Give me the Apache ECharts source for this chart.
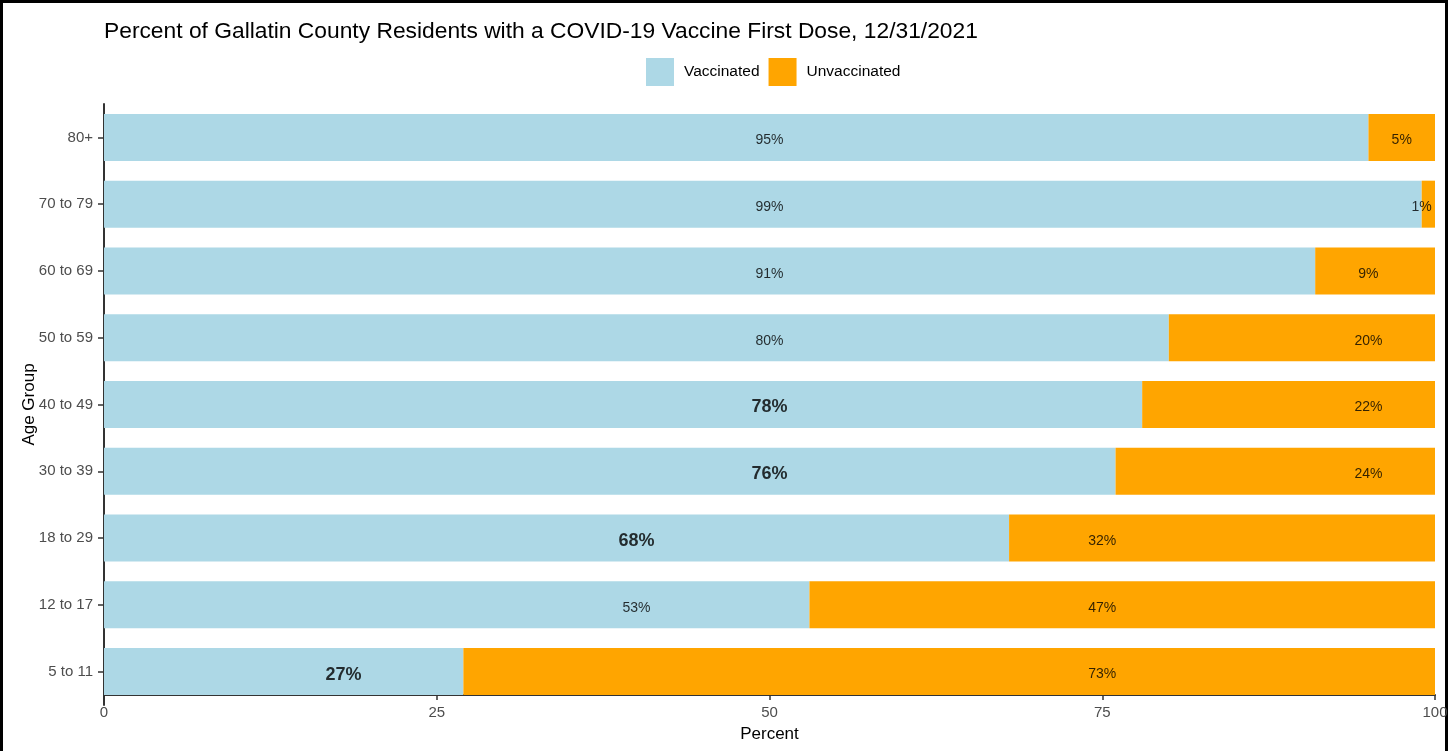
<!DOCTYPE html>
<html>
<head>
<meta charset="utf-8">
<script src="https://cdn.jsdelivr.net/npm/echarts@6/dist/echarts.min.js"></script>
<style>
  html, body { margin: 0; padding: 0; width: 1455px; height: 751px; overflow: hidden; background: #fff; }
  .frame {
    position: absolute; left: 0; top: 0; width: 1442px; height: 770px;
    border: 3px solid #000; box-sizing: content-box;
  }
  #chart { position: absolute; left: 0; top: 0; width: 1455px; height: 751px; }
</style>
</head>
<body>
<div class="frame"></div>
<div id="chart"></div>
<script>
// age groups, bottom to top
const ageGroups = ['5 to 11', '12 to 17', '18 to 29', '30 to 39', '40 to 49', '50 to 59', '60 to 69', '70 to 79', '80+']
const vaccinated = [27, 53, 68, 76, 78, 80, 91, 99, 95]
const unvaccinated = [73, 47, 32, 24, 22, 20, 9, 1, 5]
// where the percent labels sit on the Percent axis
const vaccinatedLabelAt = [18, 40, 40, 50, 50, 50, 50, 50, 50]
const unvaccinatedLabelAt = [75, 75, 75, 95, 95, 95, 95, 99, 97.5]
const boldLabel = [true, false, true, true, true, false, false, false, false]
const percentTicks = [0, 25, 50, 75, 100]

const chart = echarts.init(document.getElementById('chart'))

// label points for both segments
const labelPoints = []
ageGroups.forEach((g, i) => {
  labelPoints.push({
    value: [vaccinatedLabelAt[i], g],
    text: vaccinated[i] + '%',
    label: boldLabel[i] ? { fontSize: 18, fontWeight: 'bold' } : { fontSize: 14, fontWeight: 'normal' }
  })
  labelPoints.push({
    value: [unvaccinatedLabelAt[i], g],
    text: unvaccinated[i] + '%',
    label: { fontSize: 14, fontWeight: 'normal' }
  })
})

const font = 'Liberation Sans, Arial, sans-serif'

chart.setOption({
  animation: false,
  textStyle: { fontFamily: font },
  title: {
    text: 'Percent of Gallatin County Residents with a COVID-19 Vaccine First Dose, 12/31/2021',
    left: 99,
    top: 15,
    textStyle: { fontFamily: font, fontSize: 22.8, fontWeight: 'normal', color: '#000' }
  },
  legend: {
    data: ['Vaccinated', 'Unvaccinated'],
    left: 646,
    top: 58,
    padding: 0,
    itemWidth: 28,
    itemHeight: 28,
    itemGap: 9,
    icon: 'rect',
    textStyle: { fontFamily: font, fontSize: 15.5, color: '#000', padding: [0, 0, 0, 5] }
  },
  grid: { left: 104, right: 20, top: 104, bottom: 46, containLabel: false },
  xAxis: {
    type: 'value',
    min: 0,
    max: 100,
    interval: 25,
    offset: -10,
    name: 'Percent',
    nameLocation: 'middle',
    nameGap: 31,
    nameTextStyle: { fontFamily: font, fontSize: 17, color: '#000' },
    axisLine: { show: true, lineStyle: { color: '#333', width: 2 } },
    axisTick: { show: true, length: 5, lineStyle: { color: '#333', width: 1.5 } },
    axisLabel: {
      fontFamily: font, fontSize: 15, color: '#4d4d4d', margin: 10,
      customValues: percentTicks
    },
    splitLine: { show: false }
  },
  yAxis: {
    type: 'category',
    data: ageGroups,
    name: 'Age Group',
    nameLocation: 'middle',
    nameRotate: 90,
    nameGap: 66,
    nameMoveOverlap: false,
    nameTextStyle: { fontFamily: font, fontSize: 17, color: '#000' },
    axisLine: { show: true, lineStyle: { color: '#333', width: 2 } },
    axisTick: { show: true, alignWithLabel: true, length: 6, lineStyle: { color: '#333', width: 1.5 } },
    axisLabel: { fontFamily: font, fontSize: 15, color: '#4d4d4d', margin: 11 },
    splitLine: { show: false }
  },
  series: [
    {
      name: 'Vaccinated',
      type: 'bar',
      stack: 'dose',
      barWidth: 47,
      itemStyle: { color: '#ADD8E6' },
      data: vaccinated
    },
    {
      name: 'Unvaccinated',
      type: 'bar',
      stack: 'dose',
      barWidth: 47,
      itemStyle: { color: '#FFA500' },
      data: unvaccinated
    },
    {
      type: 'scatter',
      symbolSize: 0,
      z: 10,
      silent: true,
      data: labelPoints,
      label: {
        show: true,
        position: 'inside',
        offset: [0, 3],
        color: '#000',
        fontFamily: font,
        formatter: p => p.data.text
      }
    }
  ]
})
</script>
</body>
</html>
